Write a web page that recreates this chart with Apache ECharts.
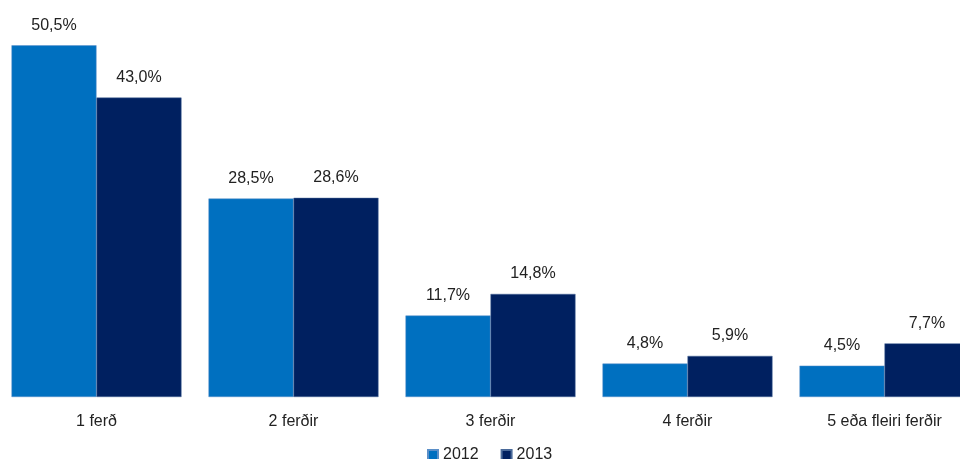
<!DOCTYPE html>
<html>
<head>
<meta charset="utf-8">
<script src="https://cdn.jsdelivr.net/npm/echarts@6/dist/echarts.min.js"></script>
<style>
  html, body { margin: 0; padding: 0; background: #fff; }
  #main { width: 960px; height: 459px; }
</style>
</head>
<body>
<div id="main"></div>
<script>
var categories = ["1 ferð", "2 ferðir", "3 ferðir", "4 ferðir", "5 eða fleiri ferðir"];
var values2012 = [50.5, 28.5, 11.7, 4.8, 4.5];
var values2013 = [43.0, 28.6, 14.8, 5.9, 7.7];

var FONT = "Liberation Sans, Arial, sans-serif";
var FS = 16;

var myChart = echarts.init(document.getElementById('main'));

function pct(p) {
  return p.value.toFixed(1).replace(".", ",") + "%";
}

myChart.setOption({
  animation: false,
  grid: { left: -2, top: 14, right: -23, height: 383, outerBoundsMode: "none" },
  legend: {
    top: 442,
    left: 422,
    itemWidth: 10,
    itemHeight: 10,
    itemGap: 22,
    icon: "rect",
    textStyle: { fontFamily: FONT, fontSize: FS, color: "#222" }
  },
  xAxis: {
    type: "category",
    data: categories,
    axisLine: { show: false },
    axisTick: { show: false },
    axisLabel: { fontFamily: FONT, fontSize: FS, color: "#222", margin: 17 }
  },
  yAxis: {
    type: "value",
    min: 0,
    max: 55,
    show: false,
    splitLine: { show: false }
  },
  series: [
    {
      name: "2012",
      type: "bar",
      data: values2012,
      barGap: "0%",
      barCategoryGap: "13.7%",
      itemStyle: { color: "#0070C0", borderColor: "#5b8fc8", borderWidth: 0.5 },
      label: { show: true, position: "top", distance: 12, formatter: pct,
               fontFamily: FONT, fontSize: FS, color: "#222" }
    },
    {
      name: "2013",
      type: "bar",
      data: values2013,
      itemStyle: { color: "#002060", borderColor: "#4a6a9a", borderWidth: 0.5 },
      label: { show: true, position: "top", distance: 12, formatter: pct,
               fontFamily: FONT, fontSize: FS, color: "#222" }
    }
  ]
});
</script>
</body>
</html>
